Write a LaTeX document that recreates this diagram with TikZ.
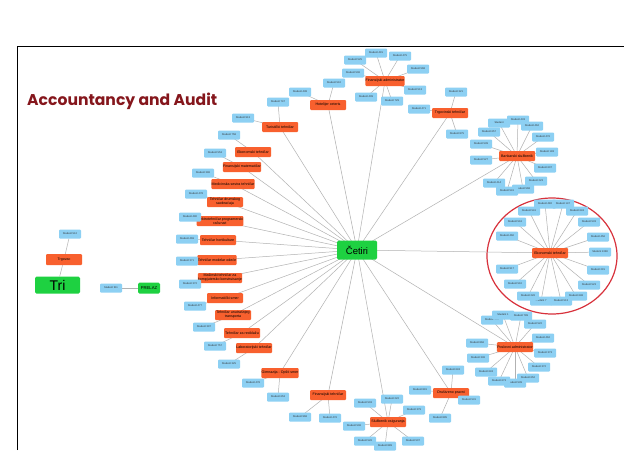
\documentclass[tikz,border=0pt]{standalone}
\usepackage{fontspec}
\setmainfont{Liberation Sans}
\newfontfamily\titlefont{Poppins}
\usetikzlibrary{backgrounds}
\definecolor{stublue}{HTML}{8DD0F3}
\definecolor{occorange}{HTML}{F8602E}
\definecolor{hubgreen}{HTML}{1ED141}
\definecolor{titlered}{HTML}{85161C}
\definecolor{ringred}{HTML}{D8323C}
\tikzset{
  stu/.style={fill=stublue, rounded corners=1pt, minimum width=22pt, minimum height=9pt, inner sep=0.3pt, font=\fontsize{2.6}{3}\selectfont, text=black!80},
  occ/.style={fill=occorange, rounded corners=1pt, minimum width=36pt, minimum height=10pt, inner sep=0.3pt, font=\fontsize{3.6}{4}\selectfont, align=center},
  hub/.style={fill=hubgreen, rounded corners=1.5pt, inner sep=0pt},
  link/.style={draw=gray!60, line width=0.5pt},
  frame/.style={draw=black, line width=1pt}
}
\begin{document}
\begin{tikzpicture}[x=1pt,y=-1pt]
\useasboundingbox (0,0) rectangle (624,450);
\draw[frame] (17,450) -- (17,46) -- (624,46);
\node[anchor=base west, text=titlered, inner sep=0] (title) at (27,105) {\resizebox{190pt}{!}{\titlefont\bfseries Accountancy and Audit}};

% left group
\node[hub, minimum width=45pt, minimum height=17pt, font=\fontsize{14}{15}\selectfont] (tri) at (57.5,285) {Tri};
\node[occ, minimum width=36pt, minimum height=11pt] (trgovac) at (64,259.5) {Trgovac};
\node[stu] (t1) at (70,234) {Student 512};
\node[hub, minimum width=22pt, minimum height=11pt, font=\fontsize{4.2}{5}\selectfont] (prelaz) at (149,288) {PRELAZ};
\node[stu] (p1) at (111,288) {Student 511};

% center
\node[hub, minimum width=40pt, minimum height=19pt, font=\fontsize{9.5}{11}\selectfont] (cet) at (357,250) {Četiri};

% occupations
\node[occ] (hot) at (328,105) {Hotelijer ceteris};
\node[occ] (fad) at (385,81) {Finansijski administrator};
\node[occ] (tur) at (280,127) {Turistički tehničar};
\node[occ] (ekl) at (253,152) {Ekonomski tehničar};
\node[occ] (fmt) at (242,167) {Finansijski matematičar};
\node[occ] (med) at (233,184) {Medicinska sestra tehničar};
\node[occ] (drm) at (225,202) {Tehničar drumskog\\saobraćaja};
\node[occ] (elk) at (220,221) {Elektrotehničar programerski\\računari};
\node[occ] (hrt) at (218,240) {Tehničar hortikulture};
\node[occ] (mod) at (217,260) {Tehničar modelar odeće};
\node[occ] (mas) at (220,278) {Mašinski tehničar za\\kompjutersko konstruisanje};
\node[occ] (inf) at (225,298) {Informatički smer};
\node[occ] (unt) at (233,315) {Tehničar unutrašnjeg\\transporta};
\node[occ] (rec) at (242,333) {Tehničar za reciklažu};
\node[occ] (lab) at (254,348) {Laboratorijski tehničar};
\node[occ] (gim) at (280,373) {Gimnazija - Opšti smer};
\node[occ] (fin) at (328,395) {Finansijski tehničar};
\node[occ] (slo) at (388,422) {Službenik osiguranja};
\node[occ] (dru) at (451,393) {Društveno pravni};
\node[occ] (pad) at (515,347) {Poslovni administrator};
\node[occ] (eko) at (550,253) {Ekonomski tehničar};
\node[occ] (ban) at (517,156) {Bankarski službenik};
\node[occ] (trt) at (450,113) {Trgovinski tehničar};

% students
\node[stu] (hot1) at (334,83) {Student 510};
\node[stu] (hot2) at (300,92) {Student 438};
\node[stu] (fad1) at (355,60) {Student 525};
\node[stu] (fad2) at (376,53) {Student 415};
\node[stu] (fad3) at (400,56) {Student 475};
\node[stu] (fad4) at (418,69) {Student 568};
\node[stu] (fad5) at (415,90) {Student 513};
\node[stu] (fad6) at (392,101) {Student 729};
\node[stu] (fad7) at (366,97) {Student 409};
\node[stu] (fad8) at (353,73) {Student 506};
\node[stu] (tur1) at (278,102) {Student 747};
\node[stu] (tur2) at (243,118) {Student 913};
\node[stu] (ekl1) at (229,135) {Student 758};
\node[stu] (fmt1) at (215,153) {Student 553};
\node[stu] (med1) at (203,173) {Student 396};
\node[stu] (drm1) at (196,194) {Student 478};
\node[stu] (elk1) at (190,217) {Student 490};
\node[stu] (hrt1) at (187,239) {Student 469};
\node[stu] (mod1) at (187,261) {Student 371};
\node[stu] (mas1) at (190,284) {Student 372};
\node[stu] (inf1) at (195,306) {Student 477};
\node[stu] (unt1) at (204,327) {Student 397};
\node[stu] (rec1) at (215,346) {Student 757};
\node[stu] (lab1) at (229,364) {Student 325};
\node[stu] (gim1) at (253,383) {Student 478};
\node[stu] (gim2) at (278,397) {Student 653};
\node[stu] (fin1) at (300,417) {Student 968};
\node[stu] (fin2) at (330,418) {Student 476};
\node[stu] (slo1) at (365,403) {Student 503};
\node[stu] (slo2) at (392,399) {Student 222};
\node[stu] (slo3) at (414,410) {Student 379};
\node[stu] (slo4) at (354,426) {Student 506};
\node[stu] (slo5) at (365,441) {Student 526};
\node[stu] (slo6) at (385,446) {Student 889};
\node[stu] (slo7) at (413,441) {Student 507};
\node[stu] (dru1) at (453,370) {Student 643};
\node[stu] (dru2) at (420,390) {Student 891};
\node[stu] (dru3) at (469,400) {Student 531};
\node[stu] (dru4) at (440,418) {Student 895};
\node[stu] (pad1) at (477,343) {Student 866};
\node[stu] (pad2) at (492,320) {Student 532};
\node[stu] (pad3) at (503,315) {Student 1};
\node[stu] (pad4) at (521,316) {Student 799};
\node[stu] (pad5) at (535,324) {Student 522};
\node[stu] (pad6) at (543,338) {Student 462};
\node[stu] (pad7) at (545,353) {Student 373};
\node[stu] (pad8) at (539,367) {Student 372};
\node[stu] (pad9) at (528,378) {Student 652};
\node[stu] (pad10) at (515,383) {Student 539};
\node[stu] (pad11) at (499,381) {Student 673};
\node[stu] (pad12) at (486,372) {Student 643};
\node[stu] (pad13) at (478,358) {Student 336};
\node[stu] (eko1) at (507,236) {Student 460};
\node[stu] (eko2) at (515,222) {Student 516};
\node[stu] (eko3) at (529,211) {Student 541};
\node[stu] (eko4) at (545,204) {Student 482};
\node[stu] (eko5) at (563,204) {Student 147};
\node[stu] (eko6) at (577,211) {Student 643};
\node[stu] (eko7) at (589,222) {Student 533};
\node[stu] (eko8) at (598,237) {Student 456};
\node[stu] (eko9) at (600,252) {Student 1328};
\node[stu] (eko10) at (598,270) {Student 215};
\node[stu] (eko11) at (589,285) {Student 523};
\node[stu] (eko12) at (576,296) {Student 648};
\node[stu] (eko13) at (561,301) {Student 513};
\node[stu] (eko14) at (541,301) {Student 7};
\node[stu] (eko15) at (528,296) {Student 226};
\node[stu] (eko16) at (515,284) {Student 510};
\node[stu] (eko17) at (507,269) {Student 917};
\node[stu] (ban1) at (481,160) {Student 527};
\node[stu] (ban2) at (481,144) {Student 539};
\node[stu] (ban3) at (489,132) {Student 657};
\node[stu] (ban4) at (499,123) {Student};
\node[stu] (ban5) at (518,120) {Student 433};
\node[stu] (ban6) at (532,126) {Student 462};
\node[stu] (ban7) at (543,137) {Student 476};
\node[stu] (ban8) at (547,152) {Student 193};
\node[stu] (ban9) at (545,168) {Student 607};
\node[stu] (ban10) at (536,181) {Student 223};
\node[stu] (ban11) at (523,189) {Student 568};
\node[stu] (ban12) at (507,191) {Student 541};
\node[stu] (ban13) at (494,183) {Student 414};
\node[stu] (trt1) at (456,92) {Student 321};
\node[stu] (trt2) at (419,109) {Student 471};
\node[stu] (trt3) at (457,134) {Student 875};

\begin{pgfonlayer}{background}
\fill[white] (0,0) rectangle (624,450);
\draw[ringred, line width=1.2pt] (552,256) ellipse [x radius=65, y radius=58];
\draw[link] (t1) -- (trgovac) -- (tri);
\draw[link] (p1) -- (prelaz);
\foreach \o in {hot,fad,tur,ekl,fmt,med,drm,elk,hrt,mod,mas,inf,unt,rec,lab,gim,fin,slo,dru,pad,eko,ban,trt}
  \draw[link] (cet.center) -- (\o.center);
\foreach \s in {hot1,hot2} \draw[link] (hot.center) -- (\s.center);
\foreach \s in {fad1,fad2,fad3,fad4,fad5,fad6,fad7,fad8} \draw[link] (fad.center) -- (\s.center);
\foreach \s in {tur1,tur2} \draw[link] (tur.center) -- (\s.center);
\draw[link] (ekl.center) -- (ekl1.center);
\draw[link] (fmt.center) -- (fmt1.center);
\draw[link] (med.center) -- (med1.center);
\draw[link] (drm.center) -- (drm1.center);
\draw[link] (elk.center) -- (elk1.center);
\draw[link] (hrt.center) -- (hrt1.center);
\draw[link] (mod.center) -- (mod1.center);
\draw[link] (mas.center) -- (mas1.center);
\draw[link] (inf.center) -- (inf1.center);
\draw[link] (unt.center) -- (unt1.center);
\draw[link] (rec.center) -- (rec1.center);
\draw[link] (lab.center) -- (lab1.center);
\foreach \s in {gim1,gim2} \draw[link] (gim.center) -- (\s.center);
\foreach \s in {fin1,fin2} \draw[link] (fin.center) -- (\s.center);
\foreach \s in {slo1,slo2,slo3,slo4,slo5,slo6,slo7} \draw[link] (slo.center) -- (\s.center);
\foreach \s in {dru1,dru2,dru3,dru4} \draw[link] (dru.center) -- (\s.center);
\foreach \s in {pad1,pad2,pad3,pad4,pad5,pad6,pad7,pad8,pad9,pad10,pad11,pad12,pad13} \draw[link] (pad.center) -- (\s.center);
\foreach \s in {eko1,eko2,eko3,eko4,eko5,eko6,eko7,eko8,eko9,eko10,eko11,eko12,eko13,eko14,eko15,eko16,eko17} \draw[link] (eko.center) -- (\s.center);
\foreach \s in {ban1,ban2,ban3,ban4,ban5,ban6,ban7,ban8,ban9,ban10,ban11,ban12,ban13} \draw[link] (ban.center) -- (\s.center);
\foreach \s in {trt1,trt2,trt3} \draw[link] (trt.center) -- (\s.center);
\end{pgfonlayer}
\end{tikzpicture}
\end{document}
